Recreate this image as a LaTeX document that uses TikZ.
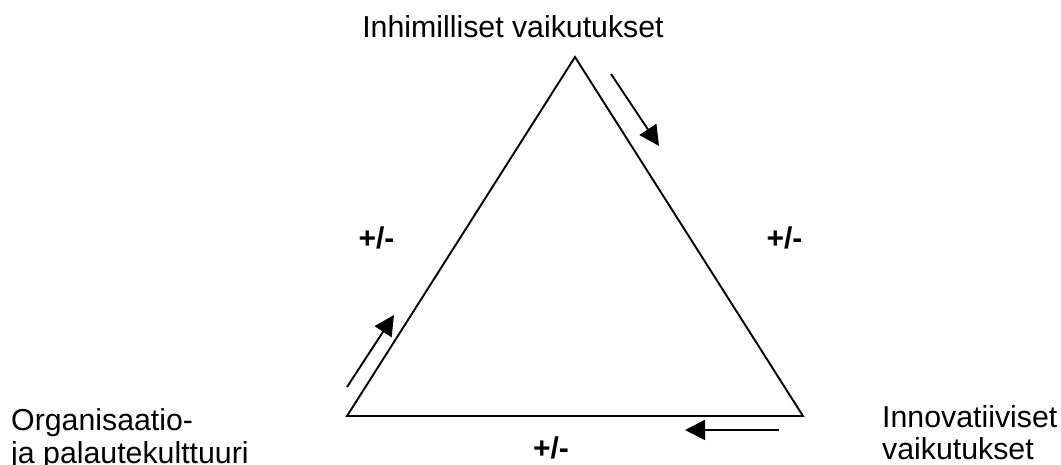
\documentclass[tikz,border=0pt]{standalone}
\usepackage{fontspec}
\setmainfont{Liberation Sans}
\usetikzlibrary{arrows.meta}
\tikzset{
  edge/.style={line width=1.9pt, line join=miter},
  flow/.style={line width=1.9pt, -{Triangle[length=20pt,width=20pt]}},
  lbl/.style={inner sep=0pt, font=\fontsize{30.3}{34}\selectfont},
  pm/.style={inner sep=0pt, font=\fontsize{30}{34}\selectfont\bfseries, anchor=base},
}
\begin{document}
\begin{tikzpicture}[x=1pt,y=-1pt]
\useasboundingbox (0,0) rectangle (1061,464);
% triangle vertices
\coordinate (T) at (575,57);
\coordinate (L) at (347,416);
\coordinate (R) at (803,416);
\draw[edge] (T) -- (R) -- (L) -- cycle;
% arrows
\coordinate (a1s) at (611,74);
\coordinate (a1e) at (659,146);
\coordinate (a2s) at (347,387);
\coordinate (a2e) at (394,315);
\coordinate (a3s) at (779,430);
\coordinate (a3e) at (685,430);
\draw[flow] (a1s) -- (a1e);
\draw[flow] (a2s) -- (a2e);
\draw[flow] (a3s) -- (a3e);
% labels
\node[lbl, anchor=base] (top) at (513,37) {Inhimilliset vaikutukset};
\node[lbl, anchor=base west] (org1) at (11,430) {Organisaatio-};
\node[lbl, anchor=base west] (org2) at (11,463) {ja palautekulttuuri};
\node[lbl, anchor=base west] (inn1) at (882,427) {Innovatiiviset};
\node[lbl, anchor=base west] (inn2) at (882,459) {vaikutukset};
\node[pm] (pmL) at (376.5,248) {+/-};
\node[pm] (pmR) at (784.5,248) {+/-};
\node[pm] (pmB) at (551,458) {+/-};
\end{tikzpicture}
\end{document}
